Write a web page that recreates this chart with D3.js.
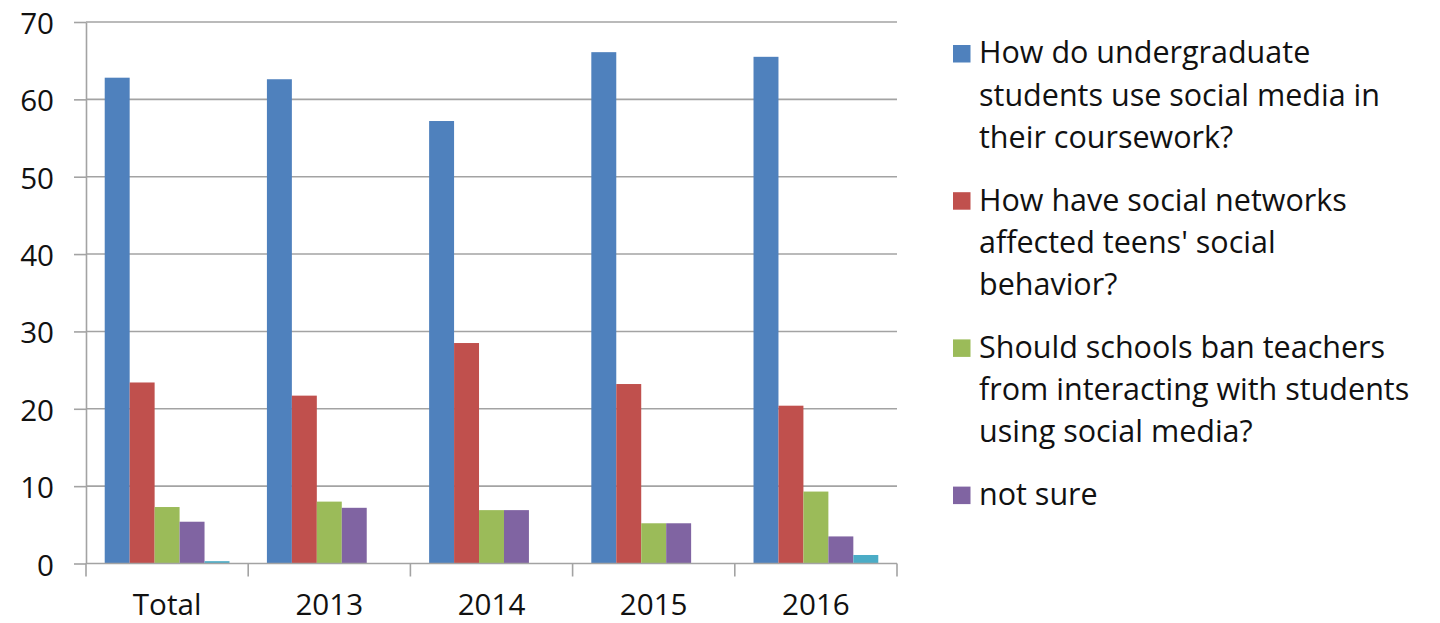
<!DOCTYPE html>
<html>
<head>
<meta charset="utf-8">
<script src="https://cdn.jsdelivr.net/npm/d3@7/dist/d3.min.js"></script>
<style>
  html, body { margin: 0; padding: 0; background: #fff; }
  svg { display: block; }
  text { font-family: "Open Sans", "Noto Sans", sans-serif; fill: #111; }
</style>
</head>
<body>
<svg id="chart" width="1440" height="623"></svg>
<script>
// Survey shares (%) by question, overall and per year
const categories = ["Total", "2013", "2014", "2015", "2016"];
const seriesNames = [
  "How do undergraduate students use social media in their coursework?",
  "How have social networks affected teens' social behavior?",
  "Should schools ban teachers from interacting with students using social media?",
  "not sure",
  "other"
];
const undergradCoursework = [62.8, 62.6, 57.2, 66.1, 65.5];
const teensBehavior       = [23.4, 21.7, 28.5, 23.2, 20.4];
const banTeachers         = [7.3, 8.0, 6.9, 5.2, 9.3];
const notSure             = [5.4, 7.2, 6.9, 5.2, 3.5];
const other               = [0.3, 0, 0, 0, 1.1];
const seriesValues = [undergradCoursework, teensBehavior, banTeachers, notSure, other];
const seriesColors = ["#4f81bd", "#c0504d", "#9bbb59", "#8064a2", "#4bacc6"];
const yTicks = [0, 10, 20, 30, 40, 50, 60, 70];

// Legend text, wrapped as it is laid out (the last series has no entry)
const legendLines = [
  ["How do undergraduate", "students use social media in", "their coursework?"],
  ["How have social networks", "affected teens' social", "behavior?"],
  ["Should schools ban teachers", "from interacting with students", "using social media?"],
  ["not sure"]
];

const svg = d3.select("#chart");
const plot = { left: 86, right: 897, top: 22, bottom: 563.5 };
const axisFont = 29.6;
const legendFont = 30.5;
const gridColor = "#a3a3a3";

const y = d3.scaleLinear().domain([0, 70]).range([plot.bottom, plot.top]);

// Gap between groups is 1.5 bar widths, split evenly on both sides of each group
const gap = 1.5 / 6.5;
const x0 = d3.scaleBand().domain(categories).range([plot.left, plot.right])
  .paddingInner(gap).paddingOuter(gap / 2);
const x1 = d3.scaleBand().domain(d3.range(seriesNames.length)).range([0, x0.bandwidth()]);

// Horizontal gridlines
svg.append("g")
  .selectAll("line")
  .data(yTicks.filter(t => t > 0))
  .join("line")
  .attr("x1", plot.left).attr("x2", plot.right)
  .attr("y1", d => y(d)).attr("y2", d => y(d))
  .attr("stroke", gridColor).attr("stroke-width", 1.6);

// Bars
const groups = svg.append("g")
  .selectAll("g")
  .data(categories)
  .join("g")
  .attr("transform", c => `translate(${x0(c)},0)`);

groups.selectAll("rect")
  .data((c, ci) => seriesValues.map((vals, si) => ({ si, v: vals[ci] })))
  .join("rect")
  .attr("x", d => x1(d.si))
  .attr("width", x1.bandwidth())
  .attr("y", d => y(d.v))
  .attr("height", d => y(0) - y(d.v))
  .attr("fill", d => seriesColors[d.si]);

// Y axis
const yAxis = svg.append("g")
  .attr("transform", `translate(${plot.left},0)`)
  .call(d3.axisLeft(y).tickValues(yTicks).tickSize(12).tickPadding(20).tickSizeOuter(0));
yAxis.select(".domain").attr("stroke", gridColor).attr("stroke-width", 1.6);
yAxis.selectAll(".tick line").attr("stroke", gridColor).attr("stroke-width", 1.6);
yAxis.selectAll(".tick text")
  .attr("font-size", axisFont)
  .attr("font-family", null)
  .attr("dy", "0.39em")
  .attr("fill", "#111");

// X axis: baseline, boundary ticks between categories, centred labels
const xAxis = svg.append("g");
xAxis.append("line")
  .attr("x1", plot.left).attr("x2", plot.right)
  .attr("y1", y(0)).attr("y2", y(0))
  .attr("stroke", gridColor).attr("stroke-width", 1.6);
const step = x0.step();
const boundaries = d3.range(categories.length + 1).map(i => plot.left + i * step);
xAxis.selectAll("line.tick")
  .data(boundaries)
  .join("line")
  .attr("class", "tick")
  .attr("x1", d => d).attr("x2", d => d)
  .attr("y1", y(0)).attr("y2", y(0) + 13)
  .attr("stroke", gridColor).attr("stroke-width", 1.6);
xAxis.selectAll("text")
  .data(categories)
  .join("text")
  .attr("x", c => x0(c) + x0.bandwidth() / 2)
  .attr("y", 615)
  .attr("text-anchor", "middle")
  .attr("font-size", axisFont)
  .text(c => c);

// Legend
const legend = svg.append("g");
const entryStep = 147.2, lineStep = 42.4, firstBaseline = 63.3;
const entries = legend.selectAll("g")
  .data(legendLines)
  .join("g")
  .attr("transform", (d, i) => `translate(0,${firstBaseline + i * entryStep})`);
entries.append("rect")
  .attr("x", 953).attr("y", -18.3)
  .attr("width", 17.5).attr("height", 17.5)
  .attr("fill", (d, i) => seriesColors[i]);
entries.selectAll("text")
  .data(d => d)
  .join("text")
  .attr("x", 979)
  .attr("y", (d, j) => j * lineStep)
  .attr("font-size", legendFont)
  .text(d => d);
</script>
</body>
</html>
